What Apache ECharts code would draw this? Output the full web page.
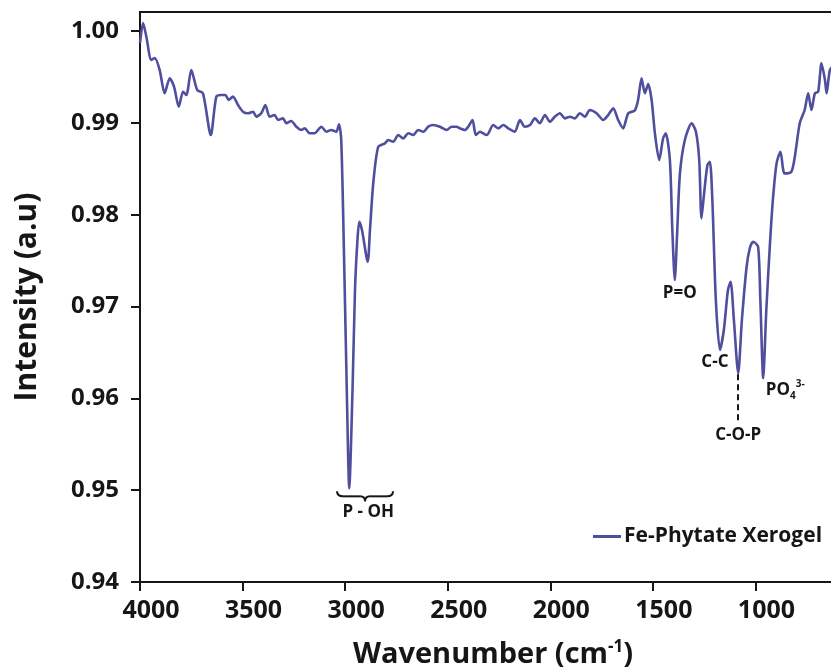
<!DOCTYPE html>
<html>
<head>
<meta charset="utf-8">
<script src="https://cdn.jsdelivr.net/npm/echarts@6/dist/echarts.min.js"></script>
<style>
  html, body { margin: 0; padding: 0; background: #fff; }
  #chart { width: 831px; height: 668px; }
</style>
</head>
<body>
<div id="chart"></div>
<script>
// FTIR spectrum of the Fe-phytate xerogel
const wavenumber = [
  4000, 3985, 3969, 3945, 3928, 3904, 3880, 3855, 3834, 3811, 3790, 3774, 3750, 3721, 3693, 3655,
  3628, 3604, 3584, 3568, 3547, 3522, 3498, 3474, 3449, 3433, 3409, 3389, 3368, 3344, 3327, 3303,
  3287, 3263, 3238, 3214, 3197, 3173, 3149, 3116, 3092, 3068, 3043, 3030, 3019, 3006, 2991, 2980,
  2964, 2952, 2940, 2931, 2918, 2890, 2879, 2863, 2839, 2806, 2790, 2766, 2741, 2717, 2692, 2668,
  2644, 2619, 2595, 2571, 2538, 2505, 2481, 2457, 2441, 2416, 2400, 2379, 2363, 2343, 2310, 2278,
  2254, 2229, 2205, 2173, 2148, 2124, 2099, 2075, 2051, 2026, 2002, 1978, 1953, 1929, 1904, 1880,
  1856, 1831, 1807, 1774, 1742, 1718, 1693, 1669, 1645, 1620, 1588, 1572, 1555, 1539, 1523, 1506,
  1490, 1469, 1450, 1437, 1417, 1405, 1393, 1381, 1368, 1344, 1311, 1290, 1274, 1263, 1251, 1234,
  1222, 1210, 1193, 1173, 1154, 1134, 1121, 1105, 1084, 1066, 1043, 1027, 1011, 987, 976, 962,
  947, 930, 915, 897, 878, 858, 825, 808, 784, 760, 743, 727, 710, 694, 678, 661, 653, 637, 617
];
const intensity = [
  0.99869, 1.00087, 0.99938, 0.99684, 0.99706, 0.99575, 0.99322, 0.99485, 0.99393, 0.99176, 0.99339, 0.99303, 0.99575, 0.99357, 0.99322, 0.98867,
  0.99285, 0.99303, 0.99303, 0.99249, 0.99285, 0.99194, 0.99121, 0.99104, 0.99121, 0.99067, 0.99104, 0.99194, 0.99067, 0.99085, 0.99031, 0.99049,
  0.98995, 0.99020, 0.98958, 0.98922, 0.98940, 0.98886, 0.98886, 0.98958, 0.98903, 0.98922, 0.98903, 0.98984, 0.98813, 0.97615, 0.95982, 0.95020,
  0.96090, 0.97180, 0.97724, 0.97923, 0.97833, 0.97488, 0.97833, 0.98341, 0.98737, 0.98777, 0.98813, 0.98794, 0.98867, 0.98831, 0.98886, 0.98867,
  0.98922, 0.98903, 0.98958, 0.98976, 0.98958, 0.98922, 0.98958, 0.98958, 0.98940, 0.98922, 0.98958, 0.99031, 0.98867, 0.98903, 0.98867, 0.98976,
  0.98940, 0.98976, 0.98940, 0.98903, 0.99031, 0.98958, 0.98976, 0.99049, 0.98995, 0.99085, 0.99012, 0.99067, 0.99104, 0.99049, 0.99067, 0.99049,
  0.99104, 0.99067, 0.99140, 0.99104, 0.99031, 0.99085, 0.99158, 0.99031, 0.98940, 0.99104, 0.99134, 0.99249, 0.99485, 0.99322, 0.99423, 0.99249,
  0.98886, 0.98595, 0.98832, 0.98886, 0.98595, 0.97833, 0.97288, 0.97833, 0.98450, 0.98813, 0.98995, 0.98903, 0.98595, 0.97960, 0.98214, 0.98541,
  0.98577, 0.98160, 0.97071, 0.96526, 0.96744, 0.97180, 0.97270, 0.96853, 0.96272, 0.96853, 0.97433, 0.97637, 0.97705, 0.97651, 0.97071, 0.96218,
  0.96962, 0.97651, 0.98160, 0.98559, 0.98686, 0.98450, 0.98468, 0.98631, 0.98995, 0.99140, 0.99322, 0.99140, 0.99322, 0.99339, 0.99648, 0.99466, 0.99322, 0.99575, 0.99630
];

// Axis ticks
const xTicks = [4000, 3500, 3000, 2500, 2000, 1500, 1000];
const yTicks = [0.94, 0.95, 0.96, 0.97, 0.98, 0.99, 1.00];

// Band assignments: [label, wavenumber, intensity at the band]
const bandPOH = ['P - OH', 2980, 0.95020];
const bandPO = ['P=O', 1393, 0.97288];
const bandCC = ['C-C', 1173, 0.96526];
const bandCOP = ['C-O-P', 1084, 0.96272];
const bandPO4 = ['PO4', 962, 0.96218];
const bandPOHCenter = 2903;

const seriesName = 'Fe-Phytate Xerogel';
const lineColor = '#4f4f9e';
const ink = '#161616';
const font = '"Open Sans", "Noto Sans", sans-serif';

const points = wavenumber.map((w, i) => [w, intensity[i]]);

const chart = echarts.init(document.getElementById('chart'), null, { renderer: 'canvas' });

const annFont = 17;
const labelBase = {
  show: true,
  fontFamily: font,
  fontWeight: 'bold',
  fontSize: annFont,
  color: ink,
  position: 'inside'
};

chart.setOption({
  animation: false,
  backgroundColor: '#fff',
  grid: {
    left: 140, top: 12, width: 718, height: 570,
    show: true, borderColor: ink, borderWidth: 2,
    containLabel: false,
    outerBoundsMode: 'none'
  },
  legend: {
    data: [seriesName],
    left: 588, top: 521,
    icon: 'rect',
    itemWidth: 28, itemHeight: 3,
    itemGap: 6,
    textStyle: { fontFamily: font, fontWeight: 'bold', fontSize: 21, color: ink, padding: [0, 0, 0, -2] }
  },
  xAxis: {
    type: 'value',
    inverse: true,
    min: 500, max: 4000,
    splitLine: { show: false },
    axisLine: { lineStyle: { color: ink, width: 2 } },
    axisTick: { show: true, length: 9, lineStyle: { color: ink, width: 2 }, customValues: xTicks },
    axisLabel: {
      customValues: xTicks, margin: 16,
      formatter: v => String(v),
      padding: [0, 0, 0, 22],
      fontFamily: font, fontWeight: 'bold', fontSize: 25, color: ink
    },
    name: 'Wavenumber (cm{sup|-1})',
    nameLocation: 'middle',
    nameGap: 57,
    nameTextStyle: {
      fontFamily: font, fontWeight: 'bold', fontSize: 29, color: ink,
      padding: [0, 12, 0, 0],
      rich: { sup: { fontFamily: font, fontWeight: 'bold', fontSize: 17, color: ink, verticalAlign: 'top', padding: [0, 0, 14, 0] } }
    }
  },
  yAxis: {
    type: 'value',
    min: 0.94, max: 1.00207,
    splitLine: { show: false },
    axisLine: { lineStyle: { color: ink, width: 2 } },
    axisTick: { show: true, length: 9, lineStyle: { color: ink, width: 2 }, customValues: yTicks },
    axisLabel: {
      customValues: yTicks, margin: 21,
      formatter: v => v.toFixed(2),
      fontFamily: font, fontWeight: 'bold', fontSize: 24, color: ink
    },
    name: 'Intensity (a.u)',
    nameLocation: 'middle',
    nameGap: 98,
    nameRotate: 90,
    nameTextStyle: { fontFamily: font, fontWeight: 'bold', fontSize: 30, color: ink }
  },
  series: [{
    name: seriesName,
    type: 'line',
    data: points,
    showSymbol: false,
    symbol: 'none',
    smooth: 0.25,
    lineStyle: { color: lineColor, width: 2.6 },
    itemStyle: { color: lineColor },
    markPoint: {
      symbol: 'circle',
      symbolSize: 0,
      silent: true,
      data: [
        { coord: [bandPOH[1], bandPOH[2]], label: Object.assign({}, labelBase, { formatter: bandPOH[0], offset: [19, 24] }) },
        { coord: [bandPO[1], bandPO[2]], label: Object.assign({}, labelBase, { formatter: bandPO[0], offset: [5, 13] }) },
        { coord: [bandCC[1], bandCC[2]], label: Object.assign({}, labelBase, { formatter: bandCC[0], offset: [-5, 12] }) },
        { coord: [bandCOP[1], bandCOP[2]], label: Object.assign({}, labelBase, { formatter: bandCOP[0], offset: [0, 62] }) },
        {
          coord: [bandPO4[1], bandPO4[2]],
          label: Object.assign({}, labelBase, {
            formatter: '{a|PO}{sub|4}{sup|3-}',
            offset: [22, 12],
            rich: {
              a: { fontFamily: font, fontWeight: 'bold', fontSize: annFont, color: ink },
              sub: { fontFamily: font, fontWeight: 'bold', fontSize: 10, color: ink, verticalAlign: 'bottom', padding: [12, 0, 0, 0] },
              sup: { fontFamily: font, fontWeight: 'bold', fontSize: 10, color: ink, verticalAlign: 'top', padding: [0, 0, 12, 0] }
            }
          })
        }
      ]
    },
    markLine: {
      silent: true,
      symbol: 'none',
      label: { show: false },
      lineStyle: { color: ink, width: 2, type: [6, 4] },
      data: [[{ coord: [bandCOP[1], bandCOP[2] - 0.0001] }, { coord: [bandCOP[1], 0.9575] }]]
    }
  }]
});

// Curly brace grouping the P-OH band
const c = chart.convertToPixel({ seriesIndex: 0 }, [bandPOHCenter, bandPOH[2]]);
const bw = 56, bh = 10, h = bh / 2;
const x0 = c[0] - bw / 2, y0 = c[1] + 3;
const braceStyle = { fill: 'none', stroke: ink, lineWidth: 2 };
const seg = (x1, y1, cx, cy, x2, y2) => ({
  type: 'bezierCurve', silent: true,
  shape: { x1: x0 + x1, y1: y0 + y1, cpx1: x0 + cx, cpy1: y0 + cy, x2: x0 + x2, y2: y0 + y2 },
  style: braceStyle
});
const bar = (x1, x2) => ({
  type: 'line', silent: true,
  shape: { x1: x0 + x1, y1: y0 + h, x2: x0 + x2, y2: y0 + h },
  style: braceStyle
});
chart.setOption({
  graphic: [
    seg(0, 0, 0, h, 6, h),
    bar(6, bw / 2 - 5),
    seg(bw / 2 - 5, h, bw / 2, h, bw / 2, bh),
    seg(bw / 2, bh, bw / 2, h, bw / 2 + 5, h),
    bar(bw / 2 + 5, bw - 6),
    seg(bw - 6, h, bw, h, bw, 0)
  ]
});
</script>
</body>
</html>
